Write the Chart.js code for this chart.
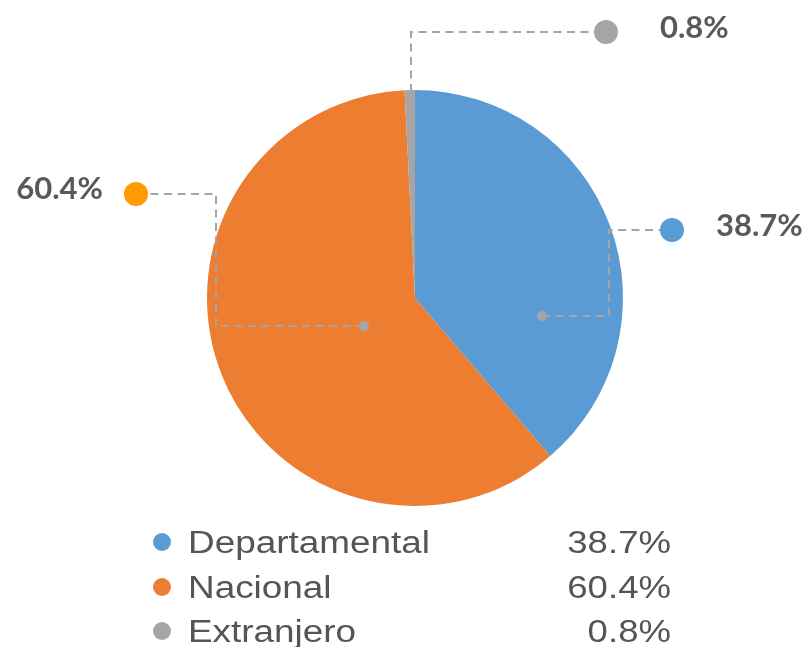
<!DOCTYPE html>
<html><head><meta charset="utf-8">
<script src="https://cdn.jsdelivr.net/npm/chart.js@4/dist/chart.umd.min.js"></script>
<style>html,body{margin:0;padding:0;background:#fff;overflow:hidden}</style>
</head><body>
<canvas id="c" width="808" height="647" style="width:808px;height:647px;display:block"></canvas>
<script>
// ---- data ----
const categories = ['Departamental', 'Nacional', 'Extranjero'];
const shares = [38.7, 60.4, 0.8];
const shareLabels = ['38.7%', '60.4%', '0.8%'];
const sliceColors = ['#5b9bd5', '#ed7d31', '#a5a5a5'];
const calloutDotColors = ['#5b9bd5', '#ff9a00', '#a5a5a5'];

// ---- callout layout (units of pie radius, relative to pie centre) ----
const calloutLayout = [
  {inner: [0.611, 0.087], elbowX: 0.933, outerY: -0.327, dotX: 1.236, textDx: 44, textBase: 6, align: 'left', innerDot: true},
  {inner: [-0.245, 0.135], elbowX: -0.957, outerY: -0.5, dotX: -1.341, textDx: -33, textBase: 5, align: 'right', innerDot: true},
  {inner: [-0.018, -0.99], elbowX: -0.018, outerY: -1.279, dotX: 0.918, textDx: 54, textBase: 6, align: 'left', innerDot: false}
];

const snap = v => Math.round(v);

const calloutPlugin = {
  id: 'callouts',
  afterDatasetsDraw(chart) {
    const ctx = chart.ctx;
    const meta = chart.getDatasetMeta(0);
    meta.data.forEach((arc, i) => {
      const L = calloutLayout[i];
      const R = arc.outerRadius, cx = arc.x, cy = arc.y;
      const ix = snap(cx + L.inner[0] * R), iy = snap(cy + L.inner[1] * R);
      const ex = snap(cx + L.elbowX * R), oy = snap(cy + L.outerY * R), dx = snap(cx + L.dotX * R);
      ctx.save();
      ctx.strokeStyle = '#a5a5a5';
      ctx.lineWidth = 2;
      ctx.setLineDash([8, 5.5]);
      ctx.beginPath();
      ctx.moveTo(ix, iy);
      ctx.lineTo(ex, iy);
      ctx.lineTo(ex, oy);
      ctx.lineTo(dx, oy);
      ctx.stroke();
      ctx.setLineDash([]);
      if (L.innerDot) {
        ctx.fillStyle = '#a5a5a5';
        ctx.beginPath(); ctx.arc(ix, iy, 5, 0, Math.PI * 2); ctx.fill();
      }
      ctx.fillStyle = calloutDotColors[i];
      ctx.beginPath(); ctx.arc(dx, oy, 12, 0, Math.PI * 2); ctx.fill();
      ctx.fillStyle = '#595959';
      ctx.font = 'bold 31px Lato';
      ctx.textAlign = L.align;
      ctx.textBaseline = 'alphabetic';
      ctx.fillText(shareLabels[i], dx + L.textDx, oy + L.textBase);
      ctx.restore();
    });
  }
};

const legendPlugin = {
  id: 'sideLegend',
  afterDraw(chart) {
    const ctx = chart.ctx;
    const rowBase = [553, 598, 642];
    categories.forEach((name, i) => {
      const base = rowBase[i];
      ctx.save();
      ctx.fillStyle = sliceColors[i];
      ctx.beginPath(); ctx.arc(162, base - 11, 9, 0, Math.PI * 2); ctx.fill();
      ctx.fillStyle = '#555555';
      ctx.font = '31px "Liberation Sans", Arial, sans-serif';
      ctx.textBaseline = 'alphabetic';
      ctx.save();
      ctx.translate(188, base); ctx.scale(1.19, 1);
      ctx.textAlign = 'left';
      ctx.fillText(name, 0, 0);
      ctx.restore();
      ctx.save();
      ctx.translate(671, base); ctx.scale(1.18, 1);
      ctx.textAlign = 'right';
      ctx.fillText(shareLabels[i], 0, 0);
      ctx.restore();
      ctx.restore();
    });
  }
};

new Chart(document.getElementById('c'), {
  type: 'pie',
  data: {
    labels: categories,
    datasets: [{
      data: shares,
      backgroundColor: sliceColors,
      borderWidth: 0
    }]
  },
  options: {
    responsive: false,
    animation: false,
    layout: {padding: {left: 207, right: 185, top: 90, bottom: 141}},
    plugins: {legend: {display: false}, tooltip: {enabled: false}}
  },
  plugins: [calloutPlugin, legendPlugin]
});
</script>
</body></html>
